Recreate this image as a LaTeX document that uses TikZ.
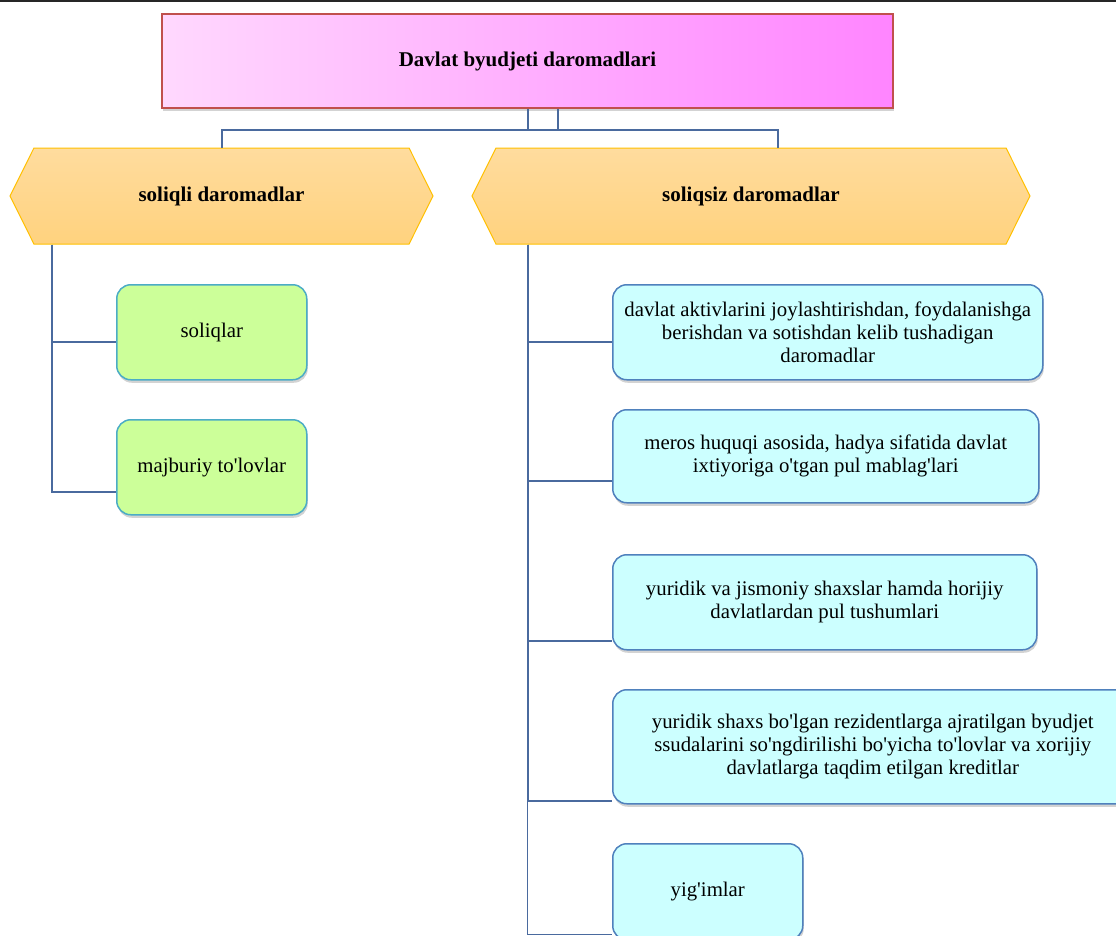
\documentclass[tikz,border=0pt]{standalone}
\usepackage{fontspec}
\setmainfont{Liberation Serif}[Ligatures=TeXOff]
\usetikzlibrary{shapes.symbols, shadows, positioning}

\definecolor{pinkL}{HTML}{FFD8FE}
\definecolor{pinkR}{HTML}{FF85FF}
\definecolor{redline}{HTML}{C0504D}
\definecolor{orangeT}{HTML}{FFDC9E}
\definecolor{orangeB}{HTML}{FFD27E}
\definecolor{orangeline}{HTML}{FFC000}
\definecolor{cyanfill}{HTML}{CCFFFF}
\definecolor{cyanline}{HTML}{4F81BD}
\definecolor{greenfill}{HTML}{CCFF99}
\definecolor{greenline}{HTML}{4BACC6}
\definecolor{linkcol}{HTML}{4A6A9E}

\begin{document}
\begin{tikzpicture}[x=1pt, y=-1pt, font=\fontsize{20.8}{23}\selectfont]
		\tikzstyle{title} = [rectangle, minimum width=731pt, minimum height=94pt, draw=redline, line width=1.5pt, left color=pinkL, right color=pinkR, drop shadow={shadow xshift=1pt, shadow yshift=-3pt, opacity=0.35}, font=\fontsize{21}{23}\selectfont\bfseries]
		
		\tikzstyle{group} = [signal, signal to=west and east, signal pointer angle=127, minimum height=96pt, draw=orangeline, line width=1pt, top color=orangeT, bottom color=orangeB, inner sep=0pt, font=\fontsize{21}{23}\selectfont\bfseries]
		
		\tikzstyle{item} = [rectangle, rounded corners=14pt, anchor=north west, draw=cyanline, line width=1.5pt, fill=cyanfill, align=center, inner xsep=3pt, drop shadow={shadow xshift=1pt, shadow yshift=-3pt, opacity=0.35}]
		
		\tikzstyle{tax} = [item, draw=greenline, fill=greenfill, minimum width=190pt, minimum height=95pt]
		
		\tikzstyle{link} = [draw=linkcol, line width=2pt]
		
		\useasboundingbox (0,0) rectangle (1116,935);
		\draw [black!85, line width=2pt] (0,0.5) -- (1116,0.5);
		
		% Top node
		\node (budget) [title] at (527.5,61) {Davlat byudjeti daromadlari};
		
		% Level 1 nodes
		\node (taxed) [group, minimum width=423pt] at (221.5,196) {soliqli daromadlar};
		\node (untaxed) [group, minimum width=558pt] at (751,196) {soliqsiz daromadlar};
		
		% Level 2 nodes, left
		\node (soliq) [tax] at (116,284) {soliqlar};
		\node (majburiy) [tax] at (116,419) {majburiy to'lovlar};
		
		% Level 2 nodes, right
		\node (aktiv) [item, minimum width=430pt, minimum height=95pt] at (612,284) {davlat aktivlarini joylashtirishdan, foydalanishga\\ berishdan va sotishdan kelib tushadigan\\ daromadlar};
		\node (meros) [item, minimum width=426pt, minimum height=93pt] at (612,409) {meros huquqi asosida, hadya sifatida davlat\\ ixtiyoriga o'tgan pul mablag'lari};
		\node (shaxs) [item, minimum width=424pt, minimum height=95pt] at (612,554) {yuridik va jismoniy shaxslar hamda horijiy\\ davlatlardan pul tushumlari};
		\node (ssuda) [item, minimum width=520pt, minimum height=114pt] at (612,689) {yuridik shaxs bo'lgan rezidentlarga ajratilgan byudjet\\ ssudalarini so'ngdirilishi bo'yicha to'lovlar va xorijiy\\ davlatlarga taqdim etilgan kreditlar};
		\node (yigim) [item, minimum width=190pt, minimum height=96pt] at (612,843) {yig'imlar};
		
		% Joints
		\coordinate (bus) at (527.5,130);
		\coordinate (stub) at ([xshift=30pt]budget.south);
		\coordinate (ltrunk) at ([xshift=-169.5pt]taxed.south);
		\coordinate (rtrunk) at ([xshift=-223.5pt]untaxed.south);
		
		% Lines, top
		\draw [link] (budget.south) -- (budget.south |- bus);
		\draw [link] (stub) -- (stub |- bus);
		\draw [link] (taxed.north) |- (bus) -| ([xshift=27pt]untaxed.north);
		
		% Lines, left
		\draw [link] (ltrunk) |- ([yshift=39pt]soliq.south west);
		\draw [link] (ltrunk) |- ([yshift=24pt]majburiy.south west);
		
		% Lines, right
		\draw [link] (rtrunk) |- ([yshift=39pt]aktiv.south west);
		\draw [link] (rtrunk) |- ([yshift=23pt]meros.south west);
		\draw [link] (rtrunk) |- ([yshift=10pt]shaxs.south west);
		\draw [link] (rtrunk) |- ([yshift=4pt]ssuda.south west);
		\draw [link, line width=1pt] ([yshift=4pt]ssuda.south west -| rtrunk) |- ([yshift=6pt]yigim.south west);
		
		\end{tikzpicture}
\end{document}
